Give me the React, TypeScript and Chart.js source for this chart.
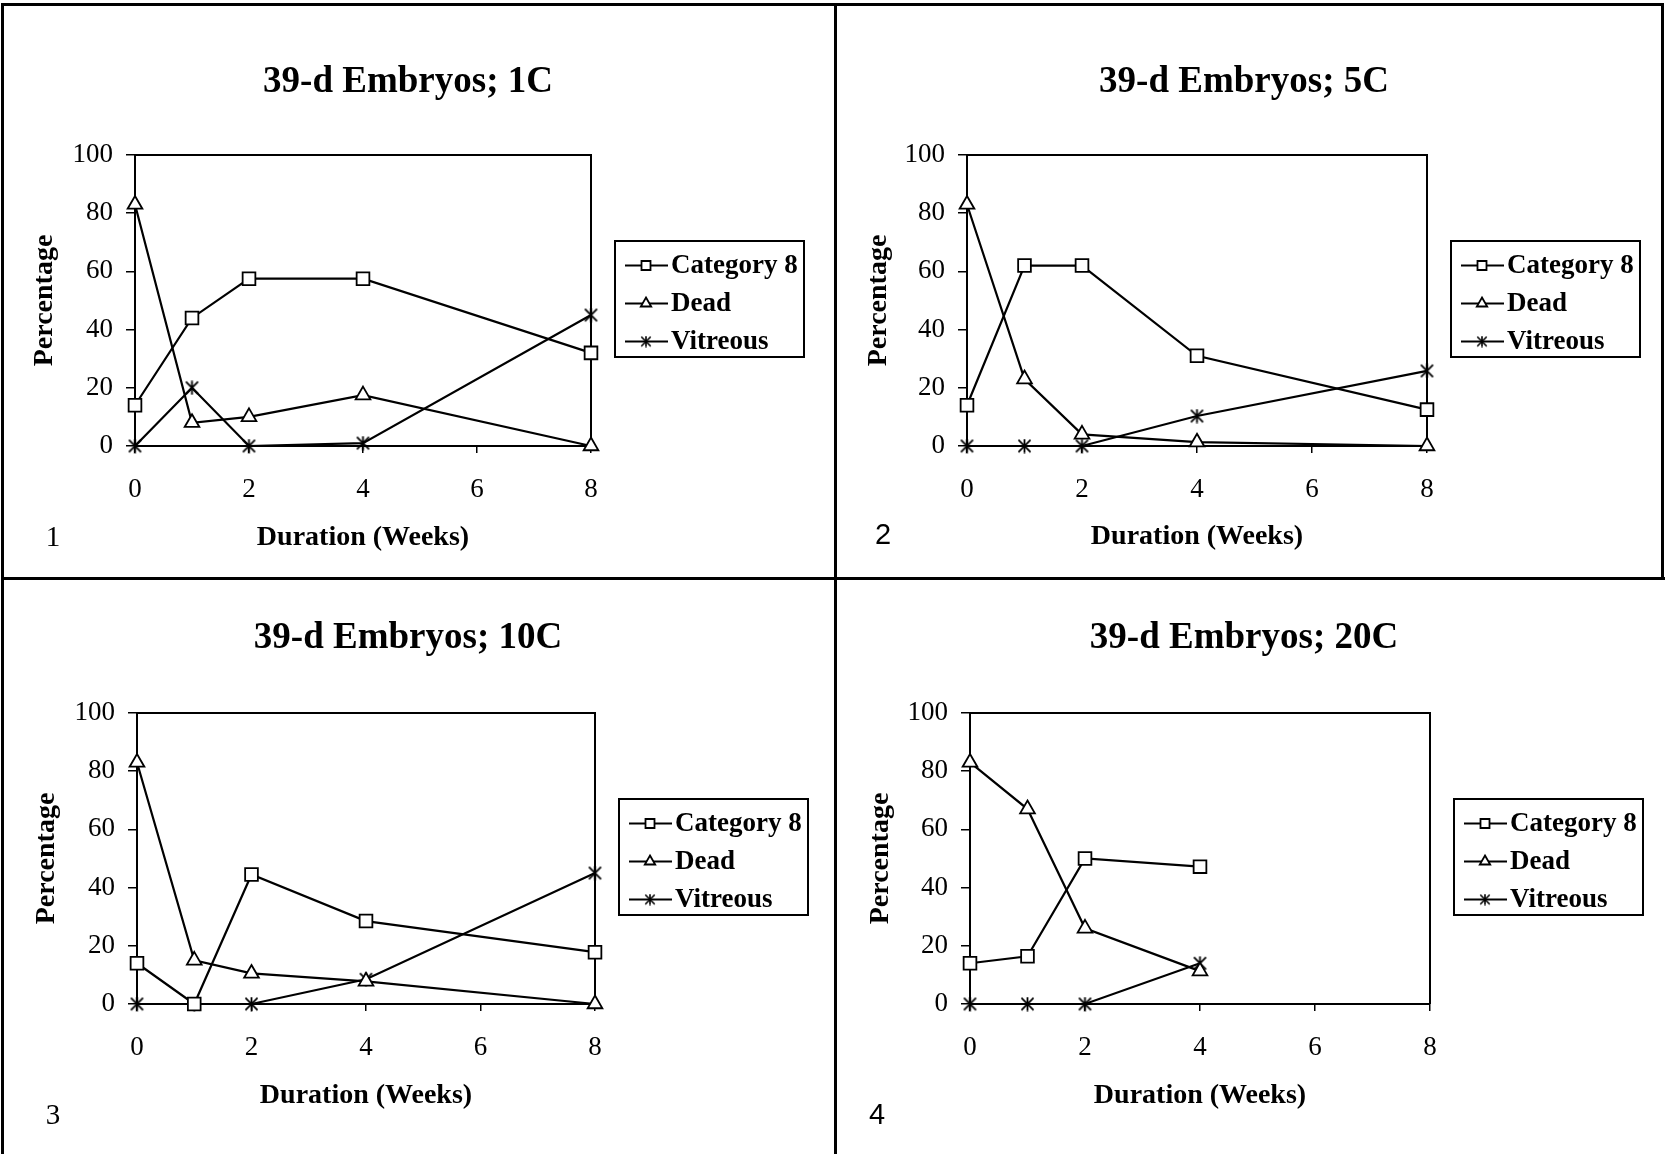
import React, { useEffect, useRef } from 'react';
import { Chart, registerables } from 'chart.js';

Chart.register(...registerables);

// ---------------- DATA ----------------
const weeks = [0, 1, 2, 4, 8];
const weeks20C = [0, 1, 2, 4];
const seriesLabels = ['Category 8', 'Dead', 'Vitreous'];
const panelTitles = ['39-d Embryos; 1C', '39-d Embryos; 5C', '39-d Embryos; 10C', '39-d Embryos; 20C'];
const panelNumbers = ['1', '2', '3', '4'];
const xAxisTitle = 'Duration (Weeks)';
const yAxisTitle = 'Percentage';

const cat8_1C = [14, 44, 57.5, 57.5, 32];
const dead_1C = [83, 8, 10, 17.5, 0];
const vitreous_1C = [0, 20, 0, 1, 45];

const cat8_5C = [14, 62, 62, 31, 12.5];
const dead_5C = [83, 23, 4, 1.3, 0];
const vitreous_5C = [0, 0, 0, 10.3, 25.8];

const cat8_10C = [14, 0, 44.5, 28.5, 17.8];
const dead_10C = [83, 15, 10.5, 7.8, 0];
const vitreous_10C = [0, 0, 0, 8.5, 45];

const cat8_20C = [14, 16.4, 50, 47.2];
const dead_20C = [83, 67, 26, 11.3];
const vitreous_20C = [0, 0, 0, 14];

const panelData = [
  { x: weeks, cat8: cat8_1C, dead: dead_1C, vit: vitreous_1C },
  { x: weeks, cat8: cat8_5C, dead: dead_5C, vit: vitreous_5C },
  { x: weeks, cat8: cat8_10C, dead: dead_10C, vit: vitreous_10C },
  { x: weeks20C, cat8: cat8_20C, dead: dead_20C, vit: vitreous_20C },
];

// ---------------- LAYOUT ----------------
const SERIF = '"Liberation Serif", "Times New Roman", serif';
const SANS = '"Liberation Sans", Arial, sans-serif';

const layouts = [
  { left: 0, top: 0, width: 836, height: 579, area: { l: 135, r: 591, t: 155, b: 446 }, titleY: 82, xTitleY: 538, yTitleX: 45, numX: 53, numY: 538, numFont: SERIF },
  { left: 836, top: 0, width: 829, height: 579, area: { l: 131, r: 591, t: 155, b: 446 }, titleY: 82, xTitleY: 537, yTitleX: 43, numX: 47, numY: 536, numFont: SANS },
  { left: 0, top: 579, width: 836, height: 575, area: { l: 137, r: 595, t: 134, b: 425 }, titleY: 59, xTitleY: 517, yTitleX: 47, numX: 53, numY: 537, numFont: SERIF },
  { left: 836, top: 579, width: 829, height: 575, area: { l: 134, r: 594, t: 134, b: 425 }, titleY: 59, xTitleY: 517, yTitleX: 45, numX: 41, numY: 537, numFont: SANS },
];

function makeStar(size: number, lw: number) {
  const c = document.createElement('canvas');
  c.width = size;
  c.height = size;
  const g = c.getContext('2d')!;
  g.strokeStyle = '#000';
  g.lineWidth = lw;
  const m = lw * 0.8;
  g.beginPath();
  g.moveTo(m, m);
  g.lineTo(size - m, size - m);
  g.moveTo(size - m, m);
  g.lineTo(m, size - m);
  g.moveTo(size / 2, 0.5);
  g.lineTo(size / 2, size - 0.5);
  g.stroke();
  return c;
}

function drawLegendMarker(ctx: CanvasRenderingContext2D, kind: number, x: number, y: number, star: HTMLCanvasElement) {
  ctx.save();
  ctx.strokeStyle = '#000';
  ctx.fillStyle = '#fff';
  ctx.lineWidth = 1.8;
  if (kind === 0) {
    const s = 9;
    ctx.beginPath();
    ctx.rect(x - s / 2, y - s / 2, s, s);
    ctx.fill();
    ctx.stroke();
  } else if (kind === 1) {
    const r = 6;
    ctx.beginPath();
    ctx.moveTo(x, y - r);
    ctx.lineTo(x + r * 0.866, y + r * 0.5);
    ctx.lineTo(x - r * 0.866, y + r * 0.5);
    ctx.closePath();
    ctx.fill();
    ctx.stroke();
  } else {
    ctx.drawImage(star, x - star.width / 2, y - star.height / 2);
  }
  ctx.restore();
}

const decorPlugin = {
  id: 'panelDecor',
  beforeDatasetsDraw(chart: any) {
    const { ctx, chartArea } = chart;
    ctx.save();
    ctx.strokeStyle = '#000';
    ctx.lineWidth = 2;
    ctx.beginPath();
    ctx.moveTo(chartArea.left, chartArea.top);
    ctx.lineTo(chartArea.right, chartArea.top);
    ctx.lineTo(chartArea.right, chartArea.bottom);
    ctx.stroke();
    ctx.restore();
  },
  afterDraw(chart: any) {
    const opts = chart.options.plugins.panelDecor;
    const { ctx, chartArea } = chart;
    ctx.save();
    ctx.fillStyle = '#000';
    // title
    ctx.font = `bold 37px ${SERIF}`;
    ctx.textAlign = 'center';
    ctx.textBaseline = 'middle';
    ctx.fillText(opts.title, opts.titleX, opts.titleY);
    // panel number
    ctx.font = `29px ${opts.numFont}`;
    ctx.fillText(opts.number, opts.numX, opts.numY);
    // legend
    const bx = chartArea.right + 24;
    const by = chartArea.top + 86;
    const bw = 189;
    const bh = 116;
    ctx.strokeStyle = '#000';
    ctx.lineWidth = 2;
    ctx.strokeRect(bx, by, bw, bh);
    ctx.font = `bold 27px ${SERIF}`;
    ctx.textAlign = 'left';
    chart.data.datasets.forEach((ds: any, i: number) => {
      const cy = by + 24.5 + i * 38;
      ctx.strokeStyle = '#000';
      ctx.lineWidth = 1.8;
      ctx.beginPath();
      ctx.moveTo(bx + 10, cy);
      ctx.lineTo(bx + 53, cy);
      ctx.stroke();
      drawLegendMarker(ctx, i, bx + 31, cy, opts.legendStar);
      ctx.fillStyle = '#000';
      ctx.fillText(ds.label, bx + 56, cy + 1);
    });
    ctx.restore();
  },
};

function Panel({ idx }: { idx: number }) {
  const ref = useRef<HTMLCanvasElement>(null);
  const L = layouts[idx];
  useEffect(() => {
    const canvas = ref.current!;
    const d = panelData[idx];
    const star = makeStar(15, 1.8);
    const legendStar = makeStar(12, 1.6);
    const pts = (ys: number[]) => ys.map((y, i) => ({ x: d.x[i], y }));
    const common = {
      borderColor: '#000',
      borderWidth: 2.2,
      pointBackgroundColor: '#fff',
      pointBorderColor: '#000',
      pointBorderWidth: 1.8,
      tension: 0,
      fill: false,
      clip: false as any,
    };
    const lhX = 28 * 1.2;
    const chart = new Chart(canvas, {
      type: 'line',
      data: {
        datasets: [
          { ...common, label: seriesLabels[0], data: pts(d.cat8), pointStyle: 'rect', pointRadius: 9 },
          { ...common, label: seriesLabels[1], data: pts(d.dead), pointStyle: 'triangle', pointRadius: 8.5 },
          { ...common, label: seriesLabels[2], data: pts(d.vit), pointStyle: star as any, pointRadius: 8 },
        ],
      },
      options: {
        responsive: false,
        animation: false,
        events: [],
        layout: { padding: { top: L.area.t, right: L.width - L.area.r, bottom: 0, left: 0 } },
        plugins: {
          legend: { display: false },
          title: { display: false },
          tooltip: { enabled: false },
          panelDecor: {
            title: panelTitles[idx],
            titleX: 408,
            titleY: L.titleY,
            number: panelNumbers[idx],
            numX: L.numX,
            numY: L.numY,
            numFont: L.numFont,
            legendStar,
          },
        } as any,
        scales: {
          x: {
            type: 'linear',
            min: 0,
            max: 8,
            ticks: { stepSize: 2, color: '#000', font: { family: SERIF, size: 27 }, padding: 21 },
            grid: { drawOnChartArea: false, drawTicks: true, tickLength: 7, color: '#000', lineWidth: 1.5 },
            border: { display: true, color: '#000', width: 2 },
            title: {
              display: true,
              text: xAxisTitle,
              color: '#000',
              font: { family: SERIF, size: 28, weight: 'bold' },
              padding: { top: 0, bottom: L.height - L.xTitleY - lhX / 2 },
            },
            afterFit: (s: any) => {
              s.height = L.height - L.area.b;
            },
          },
          y: {
            type: 'linear',
            min: 0,
            max: 100,
            ticks: { stepSize: 20, color: '#000', font: { family: SERIF, size: 27 }, padding: 13 },
            grid: { drawOnChartArea: false, drawTicks: true, tickLength: 9, color: '#000', lineWidth: 1.5 },
            border: { display: true, color: '#000', width: 2 },
            title: {
              display: true,
              text: yAxisTitle,
              color: '#000',
              font: { family: SERIF, size: 28, weight: 'bold' },
              padding: { top: L.yTitleX - lhX / 2, bottom: 0 },
            },
            afterFit: (s: any) => {
              s.width = L.area.l;
            },
          },
        },
      } as any,
      plugins: [decorPlugin],
    });
    return () => chart.destroy();
  }, [idx]);
  return (
    <canvas
      ref={ref}
      width={L.width}
      height={L.height}
      style={{ position: 'absolute', left: L.left, top: L.top, width: L.width, height: L.height }}
    />
  );
}

export default function App() {
  const line = (left: number, top: number, width: number, height: number) => (
    <div style={{ position: 'absolute', left, top, width, height, background: '#000' }} />
  );
  return (
    <div style={{ position: 'absolute', left: 0, top: 0, width: 1665, height: 1154, background: '#fff', overflow: 'hidden' }}>
      {[0, 1, 2, 3].map((i) => (
        <Panel key={i} idx={i} />
      ))}
      {line(1, 3, 1663, 3)}
      {line(1, 3, 3, 1151)}
      {line(834, 3, 3, 1151)}
      {line(1, 577, 1664, 3)}
      {line(1661, 3, 3, 577)}
    </div>
  );
}
